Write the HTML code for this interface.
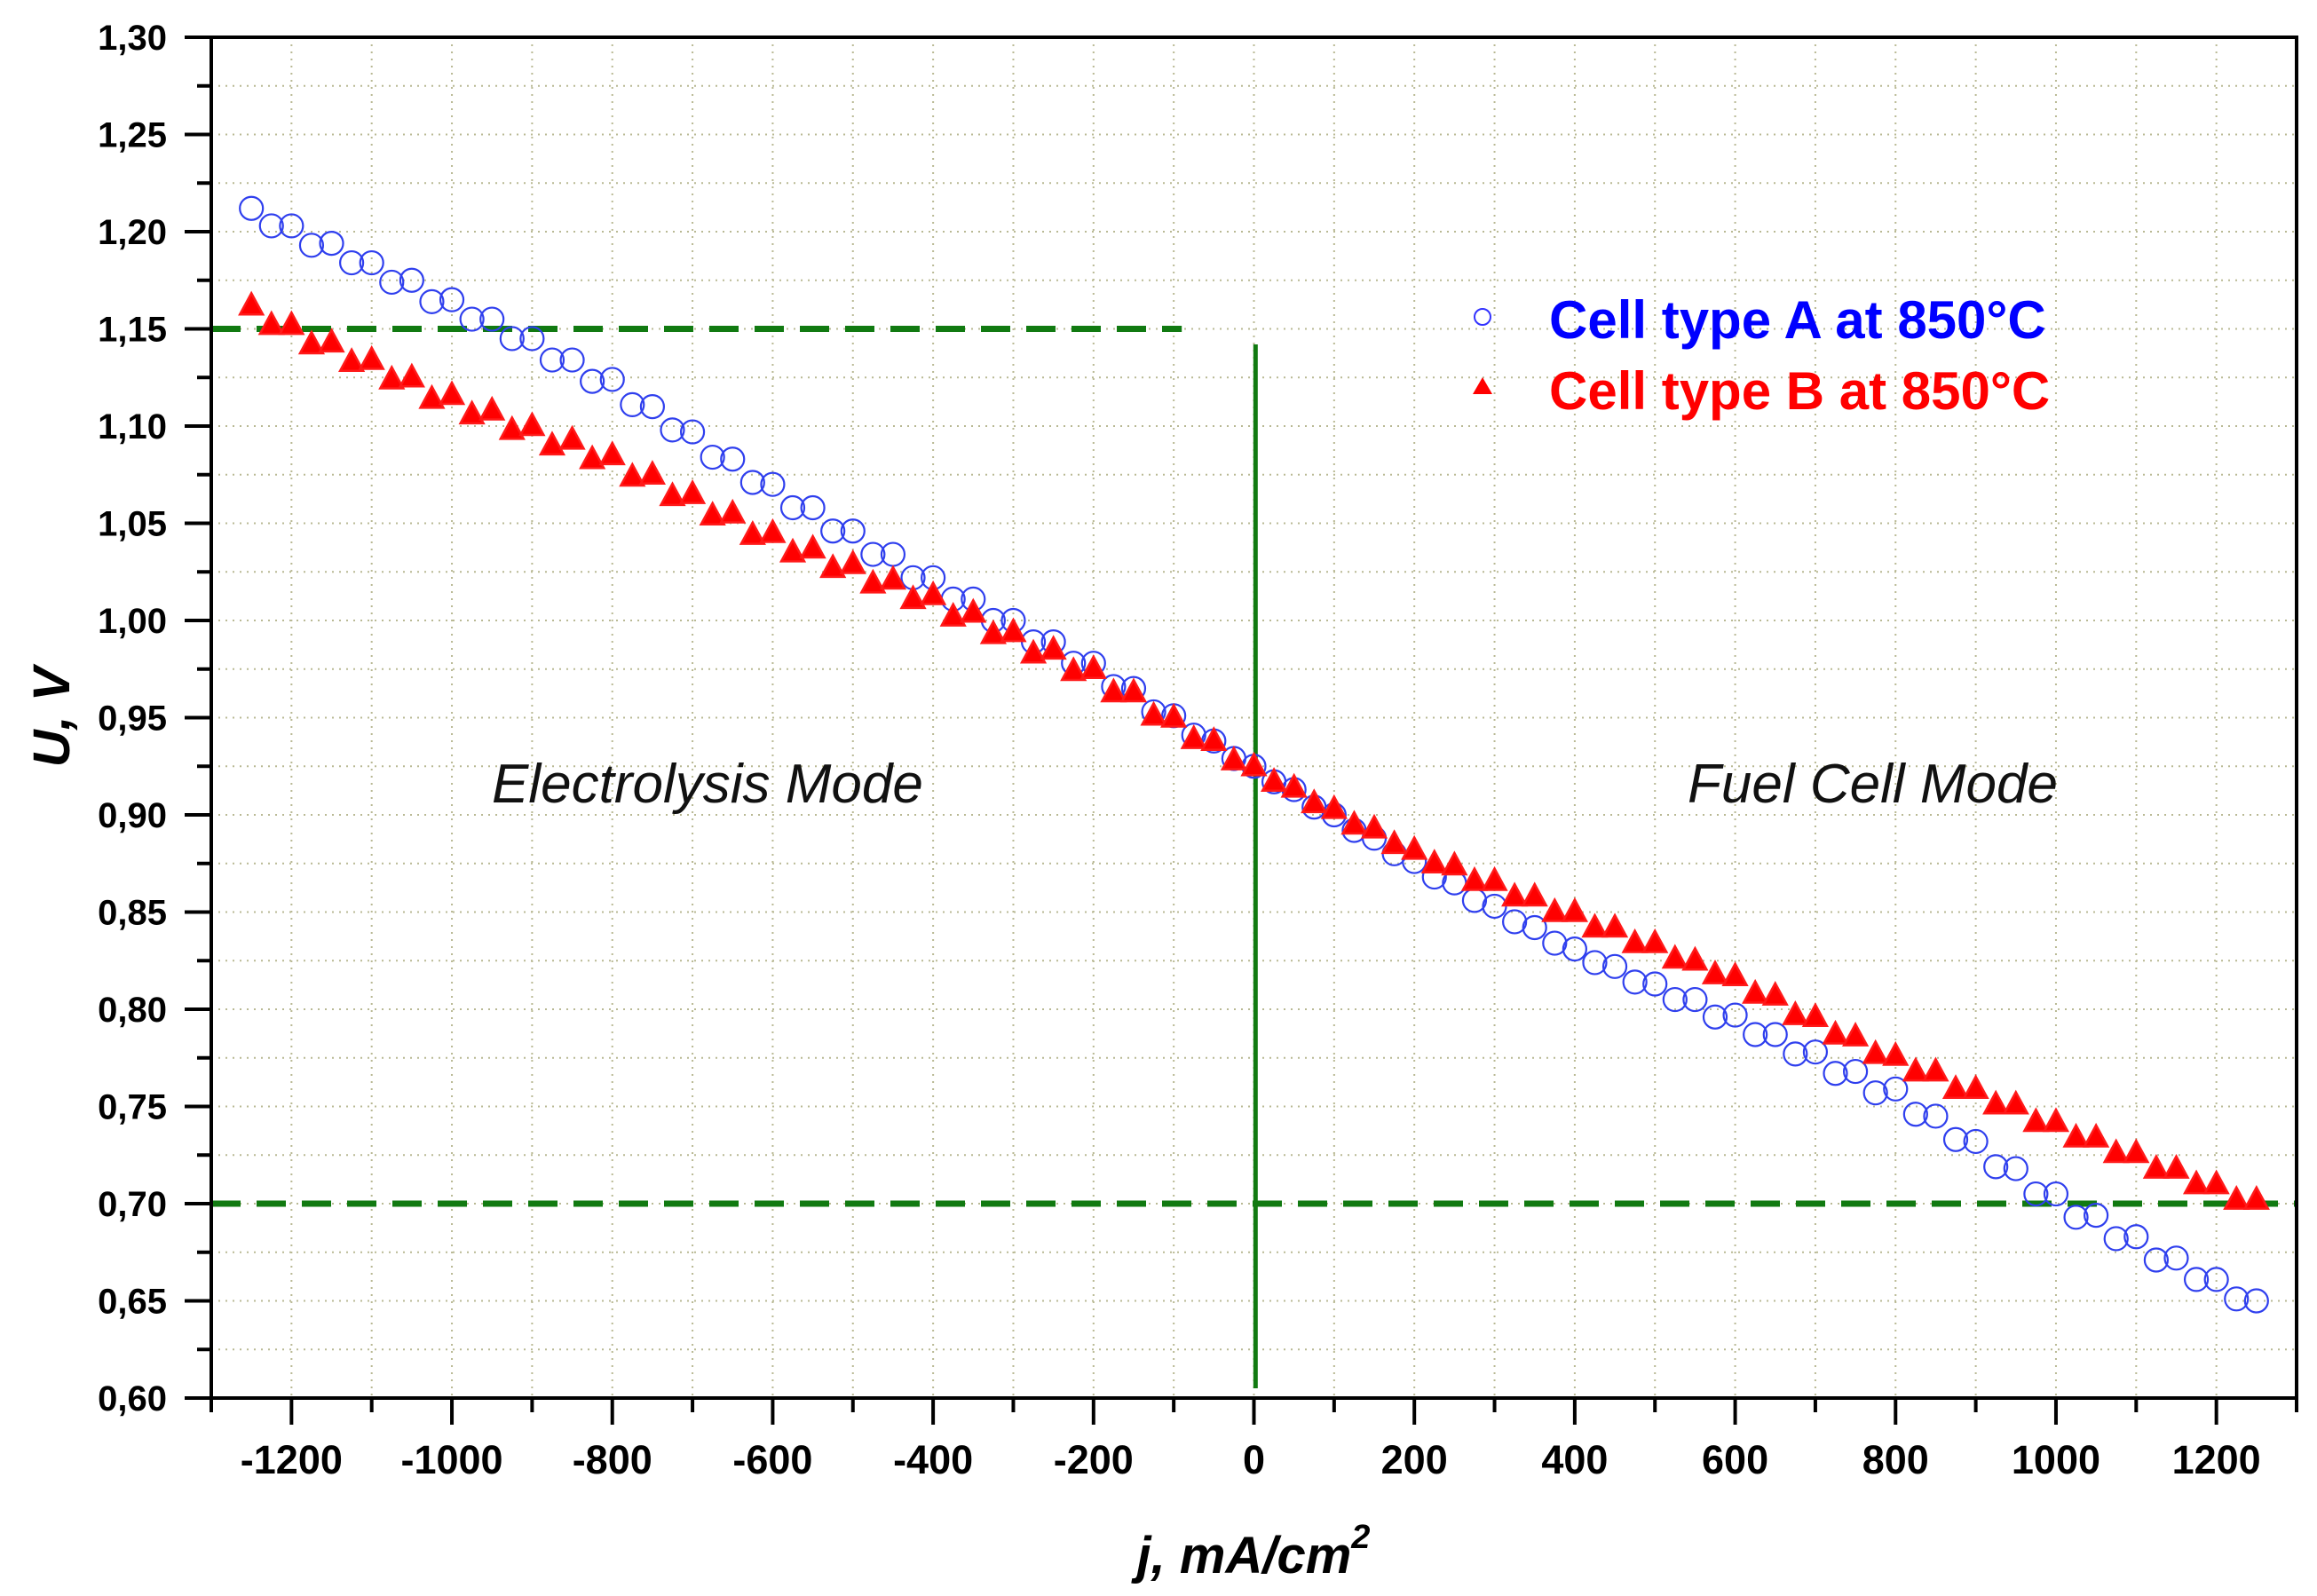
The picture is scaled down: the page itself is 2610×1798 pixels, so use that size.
<!DOCTYPE html>
<html><head><meta charset="utf-8"><style>
html,body{margin:0;padding:0;background:#fff;}
svg{display:block;font-family:"Liberation Sans",Arial,sans-serif;}
</style></head><body>
<svg id="chart" width="2610" height="1798" viewBox="0 0 2610 1798" xmlns="http://www.w3.org/2000/svg">
<rect x="0" y="0" width="2610" height="1798" fill="#fff"/>
<g id="grid"></g>
<g id="refs"></g>
<g id="series"></g>
<g id="axes"></g>
<text x="554" y="904" font-size="62" font-style="italic" fill="#111">Electrolysis Mode</text>
<text x="1901" y="904" font-size="62" font-style="italic" fill="#111">Fuel Cell Mode</text>
<g>
<circle cx="1670" cy="357" r="9" fill="none" stroke="#3333ff" stroke-width="2"/>
<text x="1745" y="381" font-size="60" font-weight="bold" fill="#0000ff">Cell type A at 850°C</text>
<polygon points="1670,425 1681,444 1659,444" fill="#ff0000"/>
<text x="1745" y="461" font-size="60" font-weight="bold" fill="#ff0000">Cell type B at 850°C</text>
</g>
<text x="1412" y="1772" font-size="58" font-weight="bold" font-style="italic" text-anchor="middle">j, mA/cm<tspan font-size="38" dy="-28">2</tspan></text>
<text transform="translate(78,808) rotate(-90)" font-size="58" font-weight="bold" font-style="italic" text-anchor="middle">U, V</text>
</svg>
<script>
const xTicks = [-1200,-1000,-800,-600,-400,-200,0,200,400,600,800,1000,1200];
const yTicks = [0.60,0.65,0.70,0.75,0.80,0.85,0.90,0.95,1.00,1.05,1.10,1.15,1.20,1.25,1.30];
const yTickLabels = ["0,60","0,65","0,70","0,75","0,80","0,85","0,90","0,95","1,00","1,05","1,10","1,15","1,20","1,25","1,30"];
const xUp = [-1250,-1200,-1150,-1100,-1050,-1000,-950,-900,-850,-800,-750,-700,-650,-600,-550,-500,-450,-400,-350,-300,-250,-200,-150,-100,-50,0,50,100,150,200,250,300,350,400,450,500,550,600,650,700,750,800,850,900,950,1000,1050,1100,1150,1200,1250];
const xDown = [-1225,-1175,-1125,-1075,-1025,-975,-925,-875,-825,-775,-725,-675,-625,-575,-525,-475,-425,-375,-325,-275,-225,-175,-125,-75,-25,25,75,125,175,225,275,325,375,425,475,525,575,625,675,725,775,825,875,925,975,1025,1075,1125,1175,1225];
const cellAUp = [1.212,1.203,1.194,1.184,1.175,1.165,1.155,1.145,1.134,1.124,1.110,1.097,1.083,1.070,1.058,1.046,1.034,1.022,1.011,1.000,0.989,0.978,0.965,0.951,0.938,0.925,0.913,0.900,0.888,0.876,0.865,0.853,0.842,0.831,0.822,0.813,0.805,0.797,0.787,0.778,0.768,0.759,0.745,0.732,0.718,0.705,0.694,0.683,0.672,0.661,0.650];
const cellADown = [1.203,1.193,1.184,1.174,1.164,1.155,1.145,1.134,1.123,1.111,1.098,1.084,1.071,1.058,1.046,1.034,1.022,1.011,1.000,0.989,0.978,0.966,0.953,0.941,0.929,0.917,0.904,0.892,0.880,0.868,0.856,0.845,0.834,0.824,0.814,0.805,0.796,0.787,0.777,0.767,0.757,0.746,0.733,0.719,0.705,0.693,0.682,0.671,0.661,0.651];
const cellBUp = [1.162,1.152,1.143,1.134,1.125,1.116,1.108,1.100,1.093,1.085,1.075,1.065,1.055,1.045,1.037,1.029,1.021,1.013,1.004,0.994,0.985,0.975,0.963,0.950,0.938,0.925,0.914,0.903,0.893,0.882,0.874,0.866,0.858,0.850,0.842,0.834,0.825,0.817,0.807,0.796,0.786,0.776,0.768,0.759,0.751,0.742,0.734,0.726,0.718,0.710,0.702];
const cellBDown = [1.152,1.142,1.133,1.124,1.114,1.106,1.098,1.090,1.083,1.074,1.064,1.054,1.044,1.035,1.027,1.019,1.011,1.002,0.993,0.983,0.974,0.963,0.951,0.939,0.928,0.917,0.906,0.895,0.885,0.875,0.866,0.858,0.850,0.842,0.834,0.826,0.818,0.808,0.797,0.787,0.777,0.768,0.759,0.751,0.742,0.734,0.726,0.718,0.710,0.702];
const hRefs = [1.15, 0.70];
const hRefStart = [-1300, -1300];
const hRefEnd = [-90, 1300];

const NS = "http://www.w3.org/2000/svg";
const L = 238, R = 2587, T = 42, B = 1575;
const X0 = -1300, X1 = 1300, Y0 = 0.60, Y1 = 1.30;
function sx(v){ return L + (v - X0) / (X1 - X0) * (R - L); }
function sy(v){ return B - (v - Y0) / (Y1 - Y0) * (B - T); }
function mk(tag, attrs, parent){
  const e = document.createElementNS(NS, tag);
  for (const k in attrs) e.setAttribute(k, attrs[k]);
  parent.appendChild(e);
  return e;
}
const grid = document.getElementById('grid');
const axes = document.getElementById('axes');
const refs = document.getElementById('refs');
const series = document.getElementById('series');

for (let v = -1200; v <= 1200; v += 100) {
  const ln = mk('line', {x1: sx(v), x2: sx(v), y1: T, y2: B, stroke: '#b9b994', 'stroke-width': 2, 'stroke-dasharray': '2 6'}, grid);
  
  
}
for (let i = 1; i < 28; i++) {
  const v = Y0 + i * 0.025;
  const ln = mk('line', {x1: L, x2: R, y1: sy(v), y2: sy(v), stroke: '#b9b994', 'stroke-width': 2, 'stroke-dasharray': '2 6'}, grid);
  
  
}

hRefs.forEach((v, i) => {
  const ln = mk('line', {x1: sx(hRefStart[i]), x2: sx(hRefEnd[i]), y1: sy(v), y2: sy(v), stroke: '#117a11', 'stroke-width': 7, 'stroke-dasharray': '33 18'}, refs);
  
  
});
const vl = mk('line', {x1: sx(2), x2: sx(2), y1: sy(1.142), y2: sy(0.605), stroke: '#117a11', 'stroke-width': 5}, refs);



function circles(xs, ys){
  xs.forEach((x, i) => {
    const c = mk('circle', {cx: sx(x), cy: sy(ys[i]), r: 13, fill: 'none', stroke: '#2f3fee', 'stroke-width': 2.2}, series);
    
    
  });
}
function tris(xs, ys, filled){
  xs.forEach((x, i) => {
    const cx = sx(x), cy = sy(ys[i]);
    const p = mk('polygon', {points: `${cx},${cy-14} ${cx+13},${cy+10} ${cx-13},${cy+10}`, fill: filled ? '#ff0000' : 'none', stroke: '#ff1a1a', 'stroke-width': 2.5}, series);
    
    
  });
}
circles(xUp, cellAUp);
circles(xDown, cellADown);
tris(xDown, cellBDown, true);
tris(xUp, cellBUp, true);

const fr = mk('rect', {x: L, y: T, width: R - L, height: B - T, fill: 'none', stroke: '#000', 'stroke-width': 4}, axes);


for (let v = -1300; v <= 1300; v += 100) {
  const major = xTicks.includes(v);
  const t = mk('line', {x1: sx(v), x2: sx(v), y1: B, y2: B + (major ? 30 : 16), stroke: '#000', 'stroke-width': 4}, axes);
  
  
}
xTicks.forEach(v => {
  const tx = mk('text', {x: sx(v), y: 1660, 'font-size': 45, 'font-weight': 'bold', 'text-anchor': 'middle'}, axes);
  tx.textContent = String(v);
  
  
});
for (let i = 0; i <= 28; i++) {
  const v = Y0 + i * 0.025;
  const major = i % 2 === 0;
  const t = mk('line', {x1: L - (major ? 30 : 16), x2: L, y1: sy(v), y2: sy(v), stroke: '#000', 'stroke-width': 4}, axes);
  
  
}
yTicks.forEach((v, i) => {
  const tx = mk('text', {x: 188, y: sy(v) + 14, 'font-size': 40, 'font-weight': 'bold', 'text-anchor': 'end'}, axes);
  tx.textContent = yTickLabels[i];
  
  
});
</script>
</body></html>
